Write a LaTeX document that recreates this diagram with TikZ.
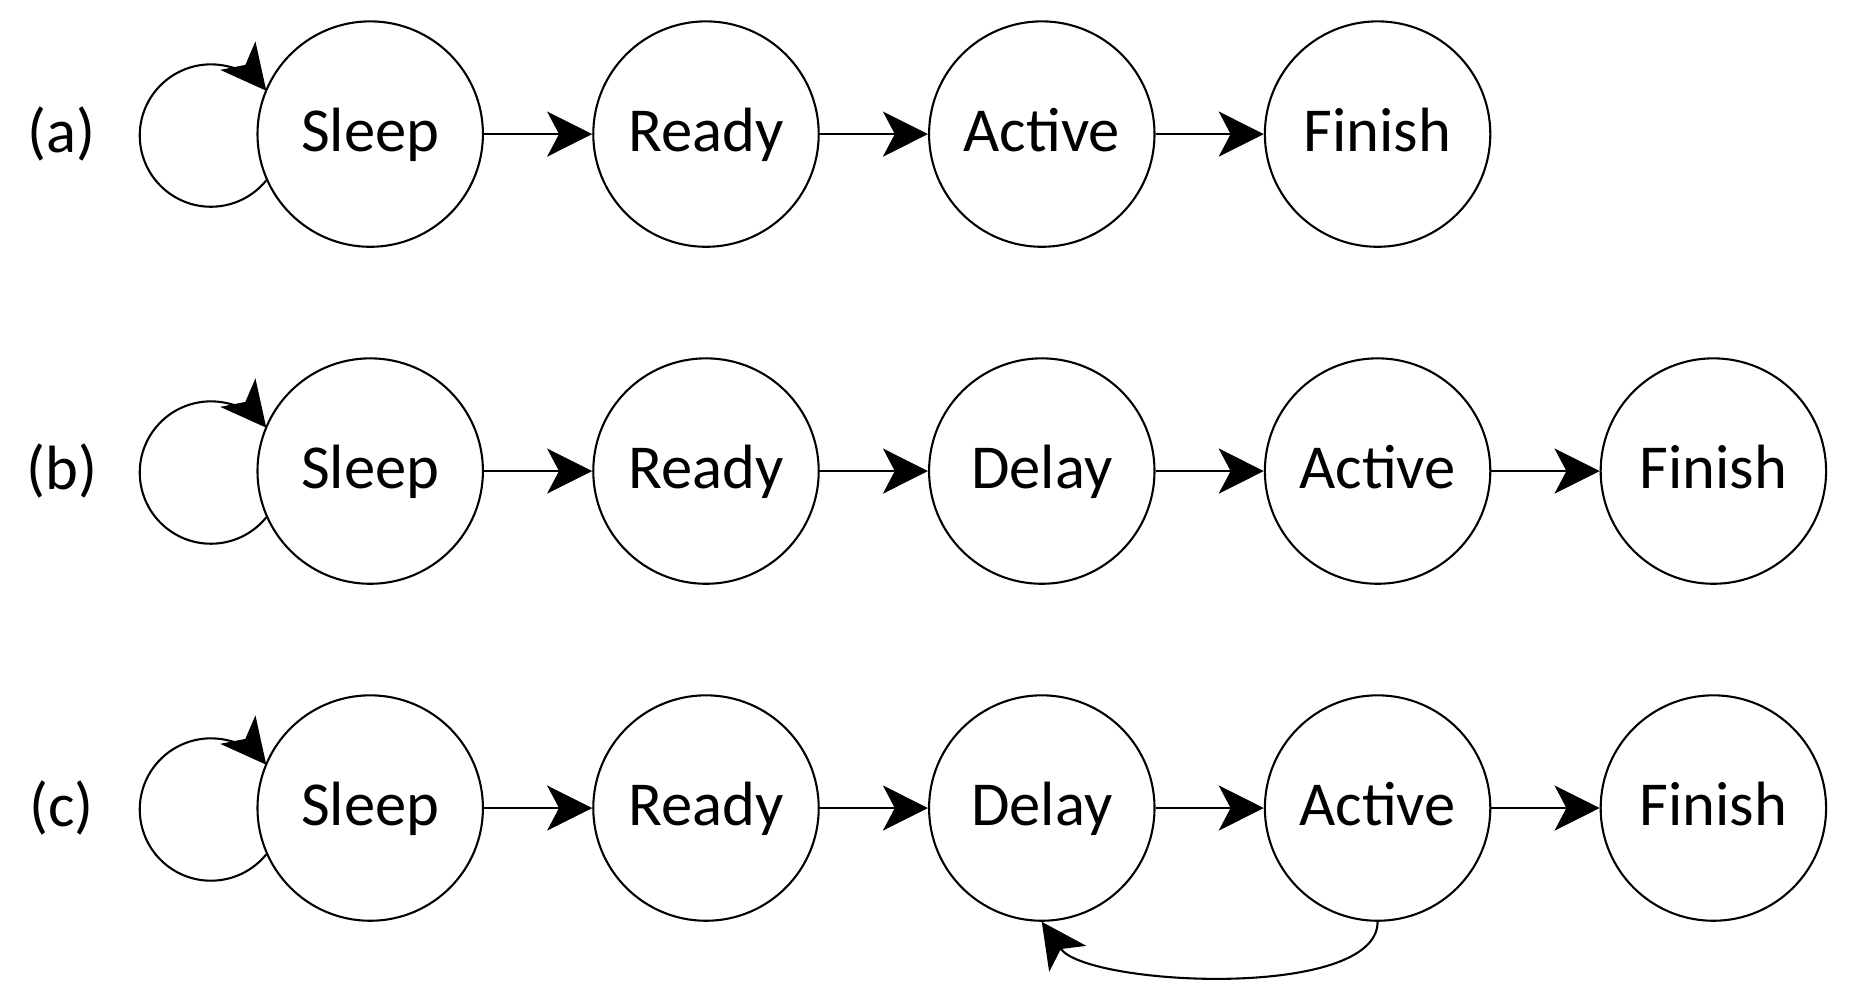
\documentclass[tikz,border=0pt]{standalone}
\usepackage{fontspec}
\setmainfont{Carlito}
\usetikzlibrary{arrows.meta}

\begin{document}
\begin{tikzpicture}[line width=0.5pt,
	state/.style={draw=black, circle, minimum size=1.9cm, inner sep=0pt, text height=2.2ex, text depth=0.45ex, font=\fontsize{15}{18}\selectfont},
	tag/.style={font=\fontsize{15}{18}\selectfont},
	>={Stealth[length=0.38cm, width=0.38cm, inset=0.1cm]}]
			\useasboundingbox (0,0) rectangle (15.6,-8.43);
			\node (la) [tag] at (0.52,-1.13){(a)};
			\node (sa) [state] at (3.12,-1.13){Sleep};
			\node (ra) [state] at (5.95,-1.13){Ready};
			\node (aa) [state] at (8.78,-1.13){Active};
			\node (fa) [state] at (11.61,-1.13){Finish};
			
			\node (lb) [tag] at (0.52,-3.97){(b)};
			\node (sb) [state] at (3.12,-3.97){Sleep};
			\node (rb) [state] at (5.95,-3.97){Ready};
			\node (db) [state] at (8.78,-3.97){Delay};
			\node (ab) [state] at (11.61,-3.97){Active};
			\node (fb) [state] at (14.44,-3.97){Finish};
			
			\node (lc) [tag] at (0.52,-6.81){(c)};
			\node (sc) [state] at (3.12,-6.81){Sleep};
			\node (rc) [state] at (5.95,-6.81){Ready};
			\node (dc) [state] at (8.78,-6.81){Delay};
			\node (ac) [state] at (11.61,-6.81){Active};
			\node (fc) [state] at (14.44,-6.81){Finish};
			
			\draw[->] (sa.204) arc[start angle=-39, end angle=-321, radius=0.6];
			\draw[->] (sb.204) arc[start angle=-39, end angle=-321, radius=0.6];
			\draw[->] (sc.204) arc[start angle=-39, end angle=-321, radius=0.6];
			
			\draw[->] (sa)--(ra);
			\draw[->] (ra)--(aa);
			\draw[->] (aa)--(fa);
			\draw[->] (sb)--(rb);
			\draw[->] (rb)--(db);
			\draw[->] (db)--(ab);
			\draw[->] (ab)--(fb);
			\draw[->] (sc)--(rc);
			\draw[->] (rc)--(dc);
			\draw[->] (dc)--(ac);
			\draw[->] (ac)--(fc);
			\draw[->] (ac.south) to[out=-90, in=-55, looseness=0.6] (dc.south);
		\end{tikzpicture}
\end{document}
